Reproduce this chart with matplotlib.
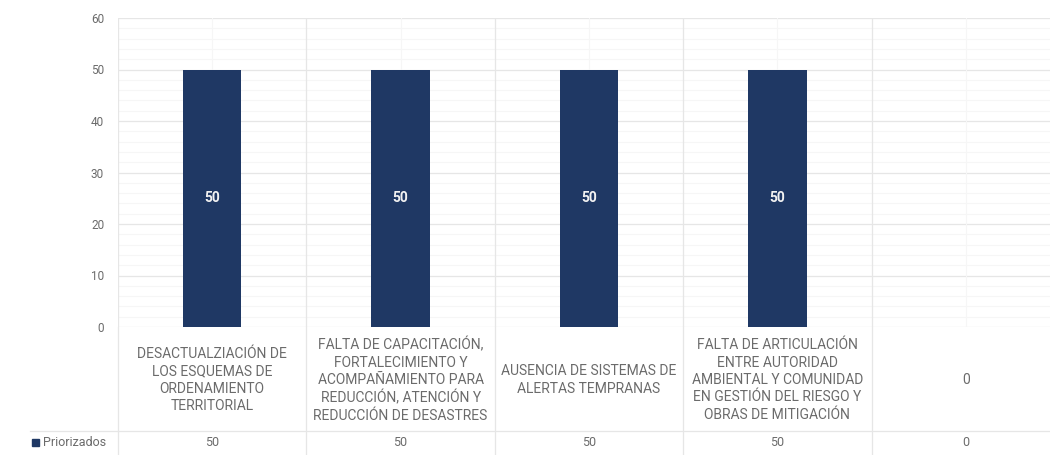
import numpy as np
import matplotlib
matplotlib.use("Agg")
import matplotlib.pyplot as plt
from matplotlib.transforms import blended_transform_factory

categories = [
    "DESACTUALZIACIÓN DE\nLOS ESQUEMAS DE\nORDENAMIENTO\nTERRITORIAL",
    "FALTA DE CAPACITACIÓN,\nFORTALECIMIENTO Y\nACOMPAÑAMIENTO PARA\nREDUCCIÓN, ATENCIÓN Y\nREDUCCIÓN DE DESASTRES",
    "AUSENCIA DE SISTEMAS DE\nALERTAS TEMPRANAS",
    "FALTA DE ARTICULACIÓN\nENTRE AUTORIDAD\nAMBIENTAL Y COMUNIDAD\nEN GESTIÓN DEL RIESGO Y\nOBRAS DE MITIGACIÓN",
    "0",
]
values = [50, 50, 50, 50, 0]
series_name = "Priorizados"

navy = "#1f3864"
grey_txt = "#6b6b6b"
grid_c = "#e6e6e6"
minor_c = "#f6f6f6"

plt.rcParams['font.family'] = ['Roboto', 'DejaVu Sans']

W, H = 1050, 455
fig = plt.figure(figsize=(W / 100, H / 100), dpi=100)
# plot area in pixels: x 118..1060, y 18..327
x0, x1, y0, y1 = 118, 1060, 18, 327
ax = fig.add_axes([x0 / W, 1 - y1 / H, (x1 - x0) / W, (y1 - y0) / H])

n = len(categories)
xs = np.arange(n)
ax.set_xlim(-0.5, n - 0.5)
ax.set_ylim(0, 60)

# grid
for y in np.arange(0, 61, 2):
    if y % 10:
        ax.axhline(y, color=minor_c, lw=0.8, zorder=0)
for y in np.arange(0, 61, 10):
    ax.axhline(y, color=grid_c, lw=0.9, zorder=0)
for x in xs:
    ax.axvline(x, color=minor_c, lw=0.8, zorder=0)
for x in np.arange(-0.5, n, 1):
    ax.axvline(x, color=grid_c, lw=0.9, zorder=0)

bars = ax.bar(xs, values, width=0.31, color=navy, zorder=2)
for x, v in zip(xs, values):
    if v > 0:
        ax.text(x, v / 2, str(v), ha="center", va="center", color="#f2f2f2",
                fontsize=10, fontweight="bold", zorder=3)

ax.set_yticks(np.arange(0, 61, 10))
ax.tick_params(axis="y", length=0, labelsize=8.5, labelcolor=grey_txt, pad=10)
ax.set_xticks([])
for s in ax.spines.values():
    s.set_visible(False)

# data table below the plot
tr = blended_transform_factory(ax.transData, fig.transFigure)
def fy(py):
    return 1 - py / H

lab_mid = 380
row_mid = 442
for x, c, v in zip(xs, categories, values):
    ax.text(x, fy(lab_mid), c, transform=tr, ha="center", va="center",
            fontsize=10, color=grey_txt, linespacing=1.3, clip_on=False)
    ax.text(x, fy(row_mid), str(v), transform=tr, ha="center", va="center",
            fontsize=9, color=grey_txt, clip_on=False)

# table lines
ax.plot([-0.5, n - 0.5], [fy(431)] * 2, transform=tr, color=grid_c, lw=0.9, clip_on=False)
for x in np.arange(-0.5, n, 1):
    ax.plot([x, x], [fy(327), fy(455)], transform=tr, color=grid_c, lw=0.9, clip_on=False)
fig.add_artist(plt.Line2D([30 / W, x0 / W], [fy(431)] * 2, color=grid_c, lw=0.9))

fig.add_artist(plt.Rectangle((32 / W, fy(446)), 7 / W, 7 / H, color=navy,
                             transform=fig.transFigure))
fig.text(43 / W, fy(row_mid), series_name, ha="left", va="center",
         fontsize=9, color=grey_txt)

fig.savefig("out.png", dpi=100, facecolor="white")
